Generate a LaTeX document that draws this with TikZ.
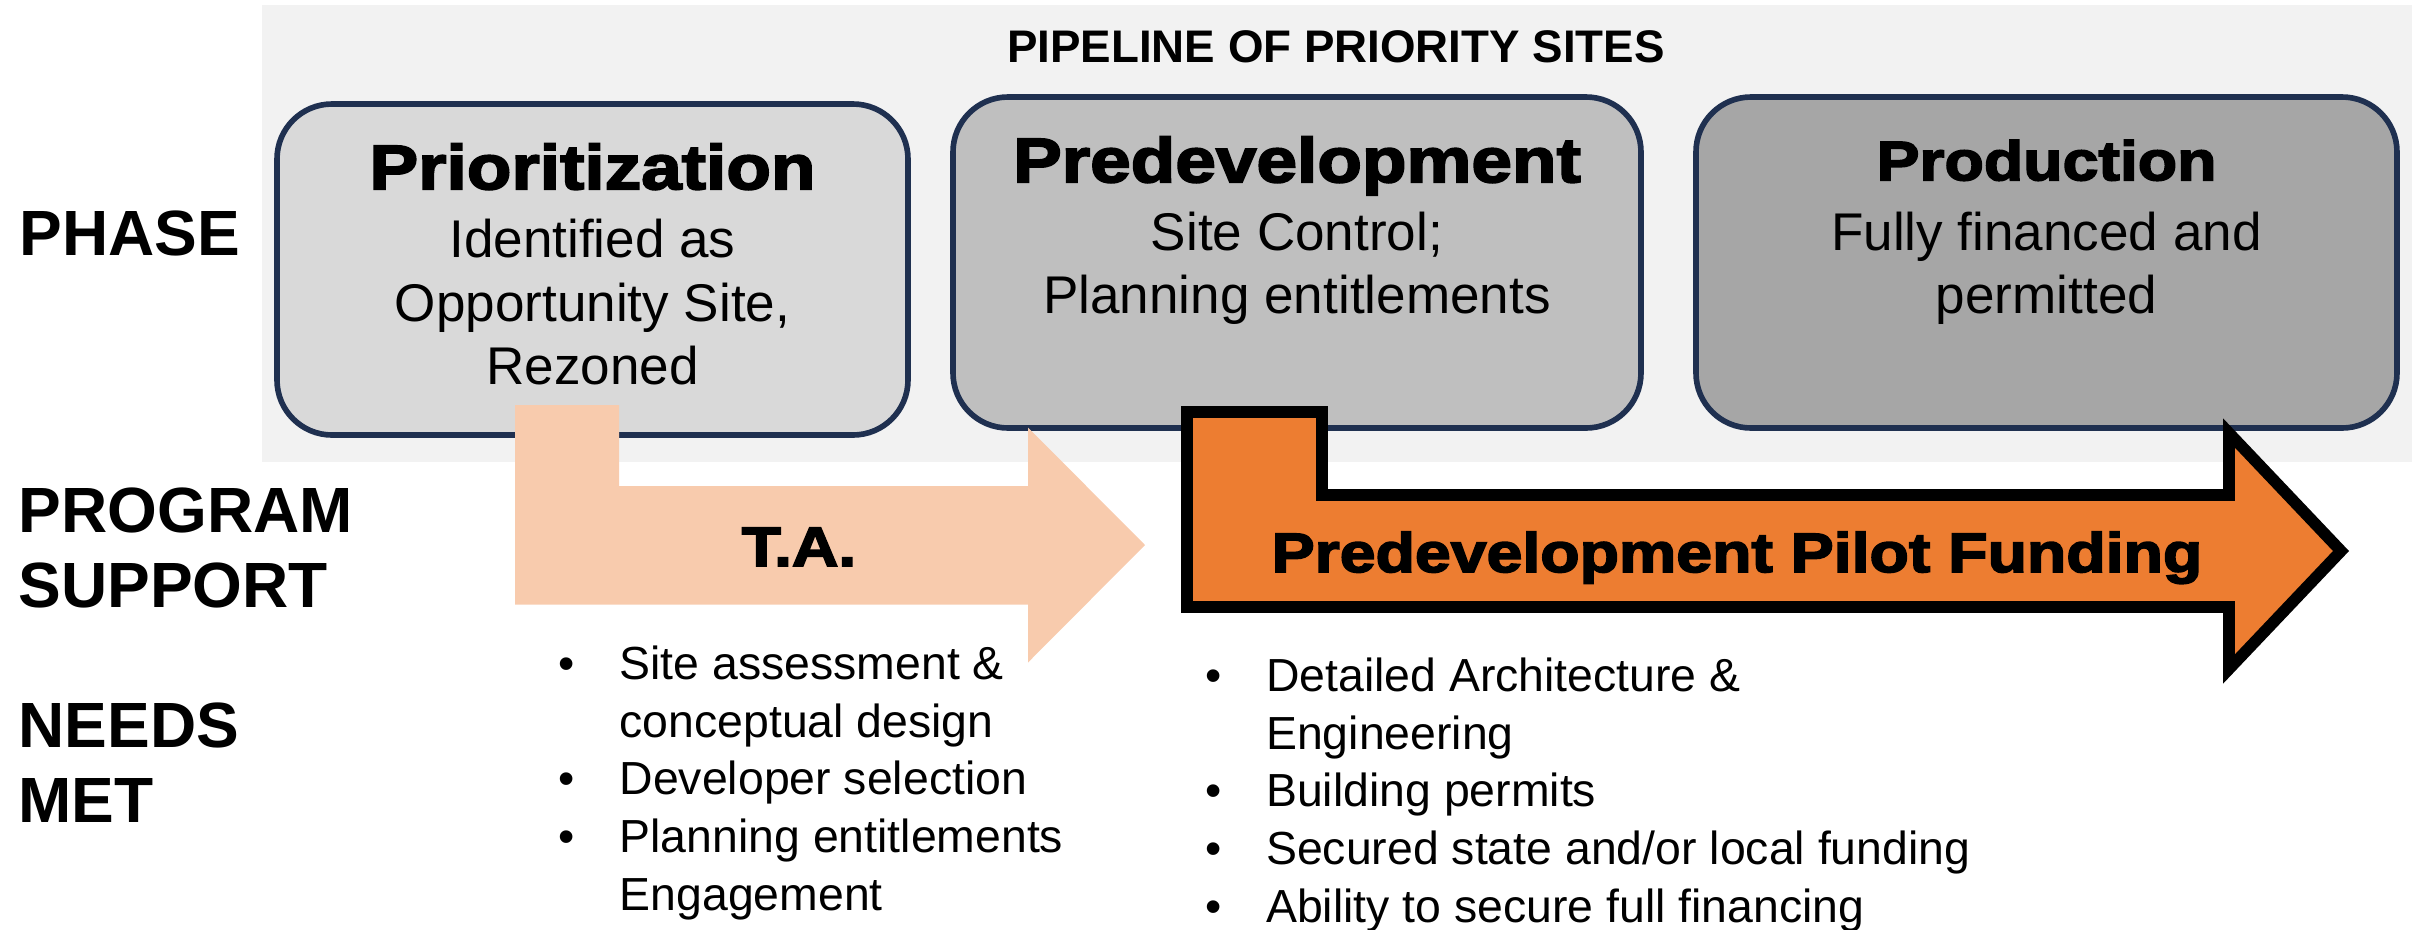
\documentclass[tikz,border=0pt]{standalone}
\usepackage{fontspec}
\setmainfont{Liberation Sans}
\newfontfamily\heavyfont{Liberation Sans}[FakeStretch=1.16,FakeBold=3]
\usepackage{xcolor}
\usetikzlibrary{positioning}

\definecolor{bggray}{HTML}{F2F2F2}
\definecolor{priogray}{HTML}{D9D9D9}
\definecolor{predevgray}{HTML}{BFBFBF}
\definecolor{prodgray}{HTML}{A6A6A6}
\definecolor{navy}{HTML}{1F3050}
\definecolor{peach}{HTML}{F8CBAD}
\definecolor{fundorange}{HTML}{ED7D31}

\newcommand\tstrut{\rule{0pt}{1em}}
\newcommand\bul{\makebox[6.1mm][l]{\textbullet}}
\newcommand\nobul{\makebox[6.1mm][l]{}}

\tikzset{
  rowlabel/.style={inner sep=0, align=left, font=\fontsize{18.2}{21.3}\selectfont\bfseries},
  phasebox/.style={draw=navy, line width=1.6pt, rounded corners=5.5mm, minimum height=3.31cm},
  phasename/.style={inner sep=0, anchor=base, font=\heavyfont\bfseries\fontsize{17.9}{20}\selectfont},
  phasetext/.style={inner sep=0, anchor=north, align=center, font=\fontsize{15.1}{18}\selectfont},
  arrowtext/.style={inner sep=0, anchor=base, font=\heavyfont\bfseries\fontsize{15.8}{18}\selectfont},
  needlist/.style={inner sep=0, anchor=north west, align=left, font=\fontsize{13.2}{16.4}\selectfont},
}

\begin{document}
\begin{tikzpicture}
\useasboundingbox (0,0) rectangle (24.12,-9.29);
\fill[bggray] (2.62,-0.05) rectangle (24.12,-4.62);
\node[inner sep=0, anchor=base, font=\fontsize{13}{15}\selectfont\bfseries] (pipeline) at (13.36,-0.62) {PIPELINE OF PRIORITY SITES};

% row labels
\node[rowlabel, anchor=base west] (phase) at (0.19,-2.55) {PHASE};
\node[rowlabel, anchor=north west] (support) at (0.18,-4.68) {\tstrut PROGRAM\\SUPPORT};
\node[rowlabel, anchor=north west] (needs) at (0.18,-6.83) {\tstrut NEEDS\\MET};

% phases
\node[phasebox, fill=priogray, minimum width=6.31cm] (prio) at (5.925,-2.695) {};
\node[phasebox, fill=predevgray, minimum width=6.88cm] (predev) at (12.97,-2.625) {};
\node[phasebox, fill=prodgray, minimum width=7.01cm] (prod) at (20.465,-2.625) {};

\node[phasename] (prioname) at ([yshift=-8.8mm]prio.north) {Prioritization};
\node[phasetext] (priotext) at ([yshift=-10.3mm]prio.north) {\tstrut Identified as\\Opportunity Site,\\Rezoned};
\node[phasename] (predevname) at ([yshift=-8.8mm]predev.north) {Predevelopment};
\node[phasetext] (predevtext) at ([yshift=-10.25mm]predev.north) {\tstrut Site Control;\\Planning entitlements};
\node[phasename, font=\heavyfont\bfseries\fontsize{15.8}{18}\selectfont] (prodname) at ([yshift=-8.6mm]prod.north) {Production};
\node[phasetext] (prodtext) at ([yshift=-10.25mm]prod.north) {\tstrut Fully financed and\\permitted};

% program support arrows
\fill[peach] (5.15,-4.05) -- (6.19,-4.05) -- (6.19,-4.86) -- (10.28,-4.86) -- (10.28,-4.275)
  -- (11.45,-5.45) -- (10.28,-6.625) -- (10.28,-6.045) -- (5.15,-6.045) -- cycle;
\node[arrowtext] (ta) at (7.99,-5.66) {T.A.};

\draw[fill=fundorange, line width=3.3pt] (11.87,-4.12) -- (13.22,-4.12) -- (13.22,-4.95) -- (22.29,-4.95)
  -- (22.29,-4.33) -- (23.41,-5.51) -- (22.29,-6.69) -- (22.29,-6.07) -- (11.87,-6.07) -- cycle;
\node[arrowtext] (pilot) at (17.37,-5.72) {Predevelopment Pilot Funding};

% needs met
\node[needlist] (talist) at (5.58,-6.326) {\tstrut\bul Site assessment \&\\\nobul conceptual design\\\bul Developer selection\\\bul Planning entitlements\\\nobul Engagement};
\node[needlist] (pilotlist) at (12.045,-6.446) {\tstrut\bul Detailed Architecture \&\\\nobul Engineering\\\bul Building permits\\\bul Secured state and/or local funding\\\bul Ability to secure full financing};
\end{tikzpicture}
\end{document}
